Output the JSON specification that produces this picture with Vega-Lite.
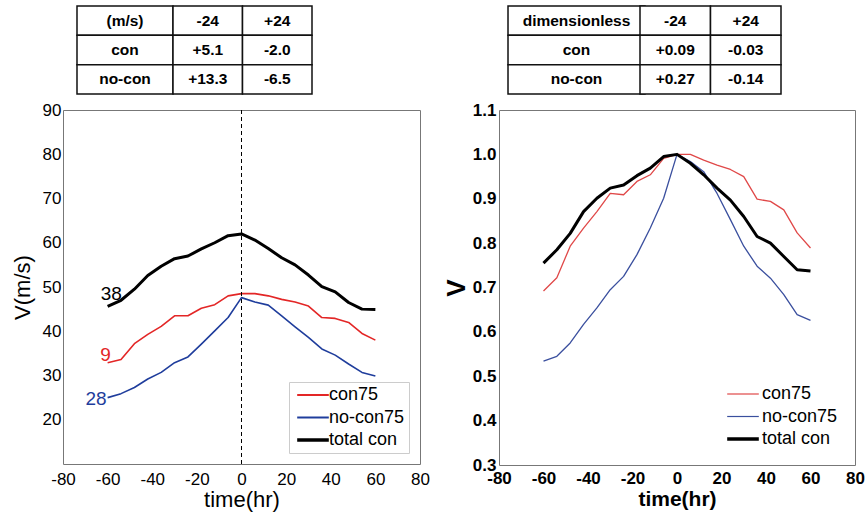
{
  "$schema": "https://vega.github.io/schema/vega-lite/v6.json",
  "padding": {"left": 10, "top": 5, "right": 5, "bottom": 5},
  "background": "white",
  "config": {
    "font": "Liberation Sans",
    "view": {"stroke": "#777", "strokeWidth": 1},
    "axis": {"grid": false, "domain": false, "labelColor": "black", "titleColor": "black", "tickColor": "#444", "tickSize": 0, "labelFlush": false, "labelFont": "Liberation Sans", "titleFont": "Liberation Sans"},
    "legend": {"labelFont": "Liberation Sans"}
  },
  "datasets": {
    "left": [
      {"series": "total con", "t": -60, "v": 45.6}, {"series": "total con", "t": -54, "v": 47.0}, {"series": "total con", "t": -48, "v": 49.5}, {"series": "total con", "t": -42, "v": 52.6}, {"series": "total con", "t": -36, "v": 54.7}, {"series": "total con", "t": -30, "v": 56.4}, {"series": "total con", "t": -24, "v": 57.0}, {"series": "total con", "t": -18, "v": 58.6}, {"series": "total con", "t": -12, "v": 60.0}, {"series": "total con", "t": -6, "v": 61.6}, {"series": "total con", "t": 0, "v": 62.0}, {"series": "total con", "t": 6, "v": 60.6}, {"series": "total con", "t": 12, "v": 58.7}, {"series": "total con", "t": 18, "v": 56.6}, {"series": "total con", "t": 24, "v": 55.0}, {"series": "total con", "t": 30, "v": 52.7}, {"series": "total con", "t": 36, "v": 50.1}, {"series": "total con", "t": 42, "v": 48.9}, {"series": "total con", "t": 48, "v": 46.5}, {"series": "total con", "t": 54, "v": 45.0}, {"series": "total con", "t": 60, "v": 44.9},
      {"series": "con75", "t": -60, "v": 32.9}, {"series": "con75", "t": -54, "v": 33.6}, {"series": "con75", "t": -48, "v": 37.2}, {"series": "con75", "t": -42, "v": 39.3}, {"series": "con75", "t": -36, "v": 41.1}, {"series": "con75", "t": -30, "v": 43.5}, {"series": "con75", "t": -24, "v": 43.5}, {"series": "con75", "t": -18, "v": 45.2}, {"series": "con75", "t": -12, "v": 46.0}, {"series": "con75", "t": -6, "v": 48.0}, {"series": "con75", "t": 0, "v": 48.5}, {"series": "con75", "t": 6, "v": 48.5}, {"series": "con75", "t": 12, "v": 48.0}, {"series": "con75", "t": 18, "v": 47.2}, {"series": "con75", "t": 24, "v": 46.6}, {"series": "con75", "t": 30, "v": 45.7}, {"series": "con75", "t": 36, "v": 43.1}, {"series": "con75", "t": 42, "v": 42.9}, {"series": "con75", "t": 48, "v": 42.0}, {"series": "con75", "t": 54, "v": 39.5}, {"series": "con75", "t": 60, "v": 38.0},
      {"series": "no-con75", "t": -60, "v": 25.0}, {"series": "no-con75", "t": -54, "v": 25.9}, {"series": "no-con75", "t": -48, "v": 27.3}, {"series": "no-con75", "t": -42, "v": 29.2}, {"series": "no-con75", "t": -36, "v": 30.7}, {"series": "no-con75", "t": -30, "v": 32.9}, {"series": "no-con75", "t": -24, "v": 34.2}, {"series": "no-con75", "t": -18, "v": 37.1}, {"series": "no-con75", "t": -12, "v": 40.1}, {"series": "no-con75", "t": -6, "v": 43.1}, {"series": "no-con75", "t": 0, "v": 47.6}, {"series": "no-con75", "t": 6, "v": 46.6}, {"series": "no-con75", "t": 12, "v": 45.9}, {"series": "no-con75", "t": 18, "v": 43.5}, {"series": "no-con75", "t": 24, "v": 41.0}, {"series": "no-con75", "t": 30, "v": 38.6}, {"series": "no-con75", "t": 36, "v": 36.0}, {"series": "no-con75", "t": 42, "v": 34.6}, {"series": "no-con75", "t": 48, "v": 32.6}, {"series": "no-con75", "t": 54, "v": 30.7}, {"series": "no-con75", "t": 60, "v": 29.9}
    ],
    "right": [
      {"series": "total con", "t": -60, "v": 0.755}, {"series": "total con", "t": -54, "v": 0.785}, {"series": "total con", "t": -48, "v": 0.822}, {"series": "total con", "t": -42, "v": 0.871}, {"series": "total con", "t": -36, "v": 0.901}, {"series": "total con", "t": -30, "v": 0.924}, {"series": "total con", "t": -24, "v": 0.931}, {"series": "total con", "t": -18, "v": 0.952}, {"series": "total con", "t": -12, "v": 0.969}, {"series": "total con", "t": -6, "v": 0.995}, {"series": "total con", "t": 0, "v": 1.0}, {"series": "total con", "t": 6, "v": 0.98}, {"series": "total con", "t": 12, "v": 0.954}, {"series": "total con", "t": 18, "v": 0.924}, {"series": "total con", "t": 24, "v": 0.897}, {"series": "total con", "t": 30, "v": 0.86}, {"series": "total con", "t": 36, "v": 0.815}, {"series": "total con", "t": 42, "v": 0.8}, {"series": "total con", "t": 48, "v": 0.77}, {"series": "total con", "t": 54, "v": 0.74}, {"series": "total con", "t": 60, "v": 0.737},
      {"series": "con75", "t": -60, "v": 0.692}, {"series": "con75", "t": -54, "v": 0.722}, {"series": "con75", "t": -48, "v": 0.793}, {"series": "con75", "t": -42, "v": 0.834}, {"series": "con75", "t": -36, "v": 0.871}, {"series": "con75", "t": -30, "v": 0.912}, {"series": "con75", "t": -24, "v": 0.909}, {"series": "con75", "t": -18, "v": 0.939}, {"series": "con75", "t": -12, "v": 0.954}, {"series": "con75", "t": -6, "v": 0.991}, {"series": "con75", "t": 0, "v": 1.0}, {"series": "con75", "t": 6, "v": 1.0}, {"series": "con75", "t": 12, "v": 0.987}, {"series": "con75", "t": 18, "v": 0.976}, {"series": "con75", "t": 24, "v": 0.966}, {"series": "con75", "t": 30, "v": 0.95}, {"series": "con75", "t": 36, "v": 0.899}, {"series": "con75", "t": 42, "v": 0.894}, {"series": "con75", "t": 48, "v": 0.875}, {"series": "con75", "t": 54, "v": 0.823}, {"series": "con75", "t": 60, "v": 0.789},
      {"series": "no-con75", "t": -60, "v": 0.534}, {"series": "no-con75", "t": -54, "v": 0.545}, {"series": "no-con75", "t": -48, "v": 0.575}, {"series": "no-con75", "t": -42, "v": 0.617}, {"series": "no-con75", "t": -36, "v": 0.654}, {"series": "no-con75", "t": -30, "v": 0.695}, {"series": "no-con75", "t": -24, "v": 0.725}, {"series": "no-con75", "t": -18, "v": 0.774}, {"series": "no-con75", "t": -12, "v": 0.834}, {"series": "no-con75", "t": -6, "v": 0.901}, {"series": "no-con75", "t": 0, "v": 1.0}, {"series": "no-con75", "t": 6, "v": 0.984}, {"series": "no-con75", "t": 12, "v": 0.961}, {"series": "no-con75", "t": 18, "v": 0.912}, {"series": "no-con75", "t": 24, "v": 0.853}, {"series": "no-con75", "t": 30, "v": 0.793}, {"series": "no-con75", "t": 36, "v": 0.748}, {"series": "no-con75", "t": 42, "v": 0.721}, {"series": "no-con75", "t": 48, "v": 0.684}, {"series": "no-con75", "t": 54, "v": 0.639}, {"series": "no-con75", "t": 60, "v": 0.626}
    ],
    "tab1head": [
      {"row": "hdr", "col": "c0", "text": "(m/s)"},
      {"row": "con", "col": "c0", "text": "con"},
      {"row": "no-con", "col": "c0", "text": "no-con"}
    ],
    "tab1vals": [
      {"row": "hdr", "col": "-24", "text": "-24"}, {"row": "hdr", "col": "+24", "text": "+24"},
      {"row": "con", "col": "-24", "text": "+5.1"}, {"row": "con", "col": "+24", "text": "-2.0"},
      {"row": "no-con", "col": "-24", "text": "+13.3"}, {"row": "no-con", "col": "+24", "text": "-6.5"}
    ],
    "tab2head": [
      {"row": "hdr", "col": "c0", "text": "dimensionless"},
      {"row": "con", "col": "c0", "text": "con"},
      {"row": "no-con", "col": "c0", "text": "no-con"}
    ],
    "tab2vals": [
      {"row": "hdr", "col": "-24", "text": "-24"}, {"row": "hdr", "col": "+24", "text": "+24"},
      {"row": "con", "col": "-24", "text": "+0.09"}, {"row": "con", "col": "+24", "text": "-0.03"},
      {"row": "no-con", "col": "-24", "text": "+0.27"}, {"row": "no-con", "col": "+24", "text": "-0.14"}
    ]
  },
  "concat": [
    {
      "width": 249, "height": 88,
      "view": {"stroke": null},
      "layer": [
        {"data": {"name": "tab1head"}, "mark": {"type": "rect", "fill": "white", "stroke": "#111", "strokeWidth": 1.5},
         "encoding": {"x": {"field": "col", "type": "nominal", "axis": null, "scale": {"type": "band", "paddingInner": 0, "paddingOuter": 0.7969, "align": 0.0915}},
                      "y": {"field": "row", "type": "nominal", "axis": null, "sort": null, "scale": {"type": "band", "paddingInner": 0, "paddingOuter": 0}}}},
        {"data": {"name": "tab1head"}, "mark": {"type": "text", "fontWeight": "bold", "fontSize": 15.5, "color": "black"},
         "encoding": {"x": {"field": "col", "type": "nominal", "axis": null, "scale": {"type": "band", "paddingInner": 0, "paddingOuter": 0.7969, "align": 0.0915}},
                      "y": {"field": "row", "type": "nominal", "axis": null, "sort": null, "scale": {"type": "band", "paddingInner": 0, "paddingOuter": 0}},
                      "text": {"field": "text"}}},
        {"data": {"name": "tab1vals"}, "mark": {"type": "rect", "fill": "white", "stroke": "#111", "strokeWidth": 1.5},
         "encoding": {"x": {"field": "col", "type": "nominal", "axis": null, "sort": null, "scale": {"type": "band", "paddingInner": 0, "paddingOuter": 0.7914, "align": 1}},
                      "y": {"field": "row", "type": "nominal", "axis": null, "sort": null, "scale": {"type": "band", "paddingInner": 0, "paddingOuter": 0}}}},
        {"data": {"name": "tab1vals"}, "mark": {"type": "text", "fontWeight": "bold", "fontSize": 15.5, "color": "black"},
         "encoding": {"x": {"field": "col", "type": "nominal", "axis": null, "sort": null, "scale": {"type": "band", "paddingInner": 0, "paddingOuter": 0.7914, "align": 1}},
                      "y": {"field": "row", "type": "nominal", "axis": null, "sort": null, "scale": {"type": "band", "paddingInner": 0, "paddingOuter": 0}},
                      "text": {"field": "text"}}}
      ],
      "resolve": {"scale": {"x": "independent"}}
    },
    {
      "width": 282, "height": 88,
      "view": {"stroke": null},
      "layer": [
        {"data": {"name": "tab2head"}, "mark": {"type": "rect", "fill": "white", "stroke": "#111", "strokeWidth": 1.5},
         "encoding": {"x": {"field": "col", "type": "nominal", "axis": null, "scale": {"type": "band", "paddingInner": 0, "paddingOuter": 0.5292, "align": 0.0621}},
                      "y": {"field": "row", "type": "nominal", "axis": null, "sort": null, "scale": {"type": "band", "paddingInner": 0, "paddingOuter": 0}}}},
        {"data": {"name": "tab2head"}, "mark": {"type": "text", "fontWeight": "bold", "fontSize": 15.5, "color": "black"},
         "encoding": {"x": {"field": "col", "type": "nominal", "axis": null, "scale": {"type": "band", "paddingInner": 0, "paddingOuter": 0.5292, "align": 0.0621}},
                      "y": {"field": "row", "type": "nominal", "axis": null, "sort": null, "scale": {"type": "band", "paddingInner": 0, "paddingOuter": 0}},
                      "text": {"field": "text"}}},
        {"data": {"name": "tab2vals"}, "mark": {"type": "rect", "fill": "white", "stroke": "#111", "strokeWidth": 1.5},
         "encoding": {"x": {"field": "col", "type": "nominal", "axis": null, "sort": null, "scale": {"type": "band", "paddingInner": 0, "paddingOuter": 1.0735, "align": 1}},
                      "y": {"field": "row", "type": "nominal", "axis": null, "sort": null, "scale": {"type": "band", "paddingInner": 0, "paddingOuter": 0}}}},
        {"data": {"name": "tab2vals"}, "mark": {"type": "text", "fontWeight": "bold", "fontSize": 15.5, "color": "black"},
         "encoding": {"x": {"field": "col", "type": "nominal", "axis": null, "sort": null, "scale": {"type": "band", "paddingInner": 0, "paddingOuter": 1.0735, "align": 1}},
                      "y": {"field": "row", "type": "nominal", "axis": null, "sort": null, "scale": {"type": "band", "paddingInner": 0, "paddingOuter": 0}},
                      "text": {"field": "text"}}}
      ],
      "resolve": {"scale": {"x": "independent"}}
    },
    {
      "width": 357, "height": 354,
      "data": {"name": "left"},
      "layer": [
        {"mark": {"type": "line", "strokeJoin": "round"},
         "encoding": {
           "x": {"field": "t", "type": "quantitative", "scale": {"domain": [-80, 80], "nice": false, "zero": false},
                 "axis": {"orient": "bottom", "values": [-80,-75,-70,-65,-60,-55,-50,-45,-40,-35,-30,-25,-20,-15,-10,-5,0,5,10,15,20,25,30,35,40,45,50,55,60,65,70,75,80],
                          "labelExpr": "datum.value % 20 === 0 ? (datum.value < 0 ? datum.value + '\u00a0\u00a0\u00a0' : '' + datum.value) : ''", "labelOverlap": false, "labelFontSize": 17, "labelPadding": 7,
                          "title": "time(hr)", "titleFontSize": 22, "titleFontWeight": "normal", "titlePadding": 2,
                          "encode": {"ticks": {"update": {"y2": {"signal": "datum.value % 20 === 0 ? -6 : -3"}}}}}},
           "y": {"field": "v", "type": "quantitative", "scale": {"domain": [10, 90], "nice": false, "zero": false},
                 "axis": {"orient": "left", "values": [10,12,14,16,18,20,22,24,26,28,30,32,34,36,38,40,42,44,46,48,50,52,54,56,58,60,62,64,66,68,70,72,74,76,78,80,82,84,86,88,90],
                          "labelExpr": "(datum.value % 10 === 0 && datum.value >= 20) ? '' + datum.value : ''", "labelOverlap": false, "labelFontSize": 17, "labelPadding": 2,
                          "title": "V(m/s)", "titleFontSize": 22, "titleFontWeight": "normal", "titlePadding": 8,
                          "encode": {"ticks": {"update": {"x2": {"signal": "datum.value % 10 === 0 ? 6 : 3"}}}}}},
           "color": {"field": "series", "type": "nominal", "scale": {"domain": ["con75", "no-con75", "total con"], "range": ["#e32626", "#1f3d9c", "#000000"]},
                     "legend": {"orient": "bottom-right", "offset": 11, "title": null, "labelFontSize": 18, "labelColor": "black", "symbolType": "stroke", "symbolSize": 1000, "symbolOffset": 11, "labelOffset": 7, "rowPadding": 4.5,
                                "strokeColor": "#ccc", "fillColor": "white", "padding": 4,
                                "encode": {"symbols": {"update": {"strokeWidth": {"signal": "datum.value === 'total con' ? 3.5 : 2"}}}}}},
           "strokeWidth": {"condition": {"test": "datum.series === 'total con'", "value": 3}, "value": 1.6}
         }},
        {"data": {"values": [{"t": 0}]},
         "mark": {"type": "rule", "color": "black", "strokeWidth": 1, "strokeDash": [4, 3]},
         "encoding": {"x": {"field": "t", "type": "quantitative", "scale": {"domain": [-80, 80], "nice": false, "zero": false},
                            "axis": {"orient": "top", "values": [-80,-75,-70,-65,-60,-55,-50,-45,-40,-35,-30,-25,-20,-15,-10,-5,0,5,10,15,20,25,30,35,40,45,50,55,60,65,70,75,80],
                                     "labels": false, "title": null, "encode": {"ticks": {"update": {"y2": {"signal": "datum.value % 20 === 0 ? 6 : 3"}}}}}}}},
        {"transform": [{"filter": "datum.series === 'total con' && datum.t === -60"}],
         "mark": {"type": "text", "fontSize": 19, "color": "black", "align": "left", "baseline": "middle", "dx": -7, "dy": -12},
         "encoding": {"x": {"field": "t", "type": "quantitative", "axis": null, "scale": {"domain": [-80, 80], "nice": false, "zero": false}},
                      "y": {"field": "v", "type": "quantitative", "scale": {"domain": [10, 90], "nice": false, "zero": false},
                            "axis": {"orient": "right", "values": [10,12,14,16,18,20,22,24,26,28,30,32,34,36,38,40,42,44,46,48,50,52,54,56,58,60,62,64,66,68,70,72,74,76,78,80,82,84,86,88,90],
                                     "labels": false, "title": null, "encode": {"ticks": {"update": {"x2": {"signal": "datum.value % 10 === 0 ? -6 : -3"}}}}}},
                      "text": {"value": "38"}}},
        {"transform": [{"filter": "datum.series === 'con75' && datum.t === -60"}],
         "mark": {"type": "text", "fontSize": 19, "color": "#e32626", "align": "center", "baseline": "middle", "dx": -2, "dy": -8},
         "encoding": {"x": {"field": "t", "type": "quantitative", "axis": null, "scale": {"domain": [-80, 80], "nice": false, "zero": false}},
                      "y": {"field": "v", "type": "quantitative", "axis": null, "scale": {"domain": [10, 90], "nice": false, "zero": false}},
                      "text": {"value": "9"}}},
        {"transform": [{"filter": "datum.series === 'no-con75' && datum.t === -60"}],
         "mark": {"type": "text", "fontSize": 19, "color": "#1f3d9c", "align": "right", "baseline": "middle", "dx": -1, "dy": 1},
         "encoding": {"x": {"field": "t", "type": "quantitative", "axis": null, "scale": {"domain": [-80, 80], "nice": false, "zero": false}},
                      "y": {"field": "v", "type": "quantitative", "axis": null, "scale": {"domain": [10, 90], "nice": false, "zero": false}},
                      "text": {"value": "28"}}}
      ],
      "resolve": {"axis": {"x": "independent", "y": "independent"}}
    },
    {
      "width": 356, "height": 355,
      "data": {"name": "right"},
      "layer": [
        {"transform": [{"filter": "datum.series !== 'total con'"}],
         "mark": {"type": "line", "strokeJoin": "round"},
         "encoding": {
           "x": {"field": "t", "type": "quantitative", "scale": {"domain": [-80, 80], "nice": false, "zero": false},
                 "axis": {"orient": "bottom", "values": [-80,-75,-70,-65,-60,-55,-50,-45,-40,-35,-30,-25,-20,-15,-10,-5,0,5,10,15,20,25,30,35,40,45,50,55,60,65,70,75,80],
                          "labelExpr": "datum.value % 20 === 0 ? (datum.value < 0 ? datum.value + '\u00a0\u00a0\u00a0' : '' + datum.value) : ''", "labelOverlap": false, "labelFontSize": 17, "labelFontWeight": "bold", "labelPadding": 5,
                          "title": "time(hr)", "titleFontSize": 21, "titleFontWeight": "bold", "titlePadding": 2,
                          "encode": {"ticks": {"update": {"y2": {"signal": "datum.value % 20 === 0 ? -5 : -3"}}}}}},
           "y": {"field": "v", "type": "quantitative", "scale": {"domain": [0.3, 1.1], "nice": false, "zero": false},
                 "axis": {"orient": "left", "values": [0.3,0.32,0.34,0.36,0.38,0.4,0.42,0.44,0.46,0.48,0.5,0.52,0.54,0.56,0.58,0.6,0.62,0.64,0.66,0.68,0.7,0.72,0.74,0.76,0.78,0.8,0.82,0.84,0.86,0.88,0.9,0.92,0.94,0.96,0.98,1.0,1.02,1.04,1.06,1.08,1.1],
                          "labelExpr": "round(datum.value * 100) % 10 === 0 ? format(datum.value, '.1f') : ''", "labelOverlap": false, "labelFontSize": 17, "labelFontWeight": "bold", "labelPadding": 3,
                          "title": "V", "titleFontSize": 26, "titleFontWeight": "bold", "titlePadding": 3,
                          "encode": {"ticks": {"update": {"x2": {"signal": "round(datum.value * 100) % 10 === 0 ? 5 : 3"}}}}}},
           "color": {"field": "series", "type": "nominal", "scale": {"domain": ["con75", "no-con75", "total con"], "range": ["#e04848", "#3a4f9e", "#000000"]},
                     "legend": {"orient": "bottom-right", "offset": 13, "title": null, "labelFontSize": 18, "labelColor": "black", "symbolType": "stroke", "symbolSize": 1000, "symbolOffset": 7, "labelOffset": 10, "rowPadding": 4.5, "padding": 4,
                                "encode": {"symbols": {"update": {"strokeWidth": {"signal": "datum.value === 'total con' ? 3.5 : 1.2"}}}}}},
           "strokeWidth": {"value": 1.3}
         }},
        {"transform": [{"filter": "datum.series === 'total con'"}],
         "mark": {"type": "line", "strokeJoin": "round", "strokeWidth": 3},
         "encoding": {
           "x": {"field": "t", "type": "quantitative", "scale": {"domain": [-80, 80], "nice": false, "zero": false},
                 "axis": {"orient": "top", "values": [-80,-75,-70,-65,-60,-55,-50,-45,-40,-35,-30,-25,-20,-15,-10,-5,0,5,10,15,20,25,30,35,40,45,50,55,60,65,70,75,80],
                          "labels": false, "title": null, "encode": {"ticks": {"update": {"y2": {"signal": "datum.value % 20 === 0 ? 5 : 3"}}}}}},
           "y": {"field": "v", "type": "quantitative", "scale": {"domain": [0.3, 1.1], "nice": false, "zero": false},
                 "axis": {"orient": "right", "values": [0.3,0.32,0.34,0.36,0.38,0.4,0.42,0.44,0.46,0.48,0.5,0.52,0.54,0.56,0.58,0.6,0.62,0.64,0.66,0.68,0.7,0.72,0.74,0.76,0.78,0.8,0.82,0.84,0.86,0.88,0.9,0.92,0.94,0.96,0.98,1.0,1.02,1.04,1.06,1.08,1.1],
                          "labels": false, "title": null, "encode": {"ticks": {"update": {"x2": {"signal": "round(datum.value * 100) % 10 === 0 ? -5 : -3"}}}}}},
           "color": {"field": "series", "type": "nominal", "scale": {"domain": ["con75", "no-con75", "total con"], "range": ["#e04848", "#3a4f9e", "#000000"]}}
         }}
      ],
      "resolve": {"axis": {"x": "independent", "y": "independent"}}
    }
  ],
  "columns": 2,
  "spacing": {"row": 16, "column": 79},
  "bounds": "flush",
  "resolve": {"scale": {"color": "independent"}, "legend": {"color": "independent"}}
}
